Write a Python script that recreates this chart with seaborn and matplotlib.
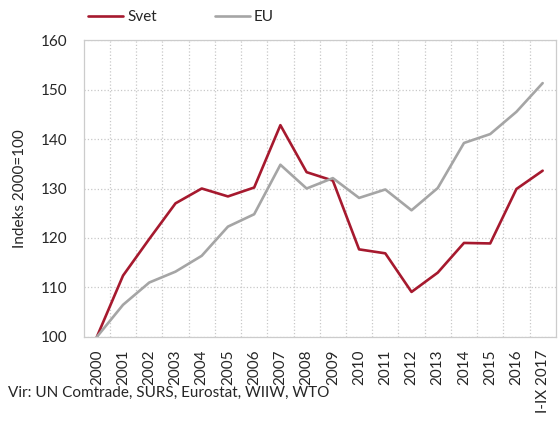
import numpy as np
import pandas as pd
import matplotlib
matplotlib.use("Agg")
import matplotlib.pyplot as plt
from matplotlib.ticker import FixedLocator
import seaborn as sns

years = ["2000", "2001", "2002", "2003", "2004", "2005", "2006", "2007", "2008",
         "2009", "2010", "2011", "2012", "2013", "2014", "2015", "2016", "I-IX 2017"]
svet = [100, 112.4, 119.8, 127.0, 130.0, 128.4, 130.2, 142.8, 133.3,
        131.6, 117.7, 116.9, 109.1, 113.0, 119.0, 118.9, 129.9, 133.6]
eu = [100, 106.5, 111.0, 113.2, 116.4, 122.3, 124.8, 134.8, 130.0,
      132.1, 128.1, 129.8, 125.6, 130.1, 139.2, 141.0, 145.5, 151.3]

RED = "#a6192e"
GRAY = "#a5a5a5"
FS = 11

sns.set_style("white")
plt.rcParams["font.family"] = ["Lato", "DejaVu Sans"]

df = pd.DataFrame({
    "pos": list(range(len(years))) * 2,
    "value": svet + eu,
    "series": ["Svet"] * len(years) + ["EU"] * len(years),
})

fig = plt.figure(figsize=(5.58, 4.26), dpi=100)
ax = fig.add_axes([0.150, 0.209, 0.846, 0.697])

sns.lineplot(data=df, x="pos", y="value", hue="series", sort=False,
             palette={"Svet": RED, "EU": GRAY}, linewidth=1.9, ax=ax, legend=False)

ax.set_xlim(-0.5, len(years) - 0.5)
ax.set_ylim(100, 160)
ax.set_yticks(np.arange(100, 161, 10))
ax.set_xticks(range(len(years)))
ax.set_xticklabels(years, rotation=90, fontsize=FS)
ax.xaxis.set_minor_locator(FixedLocator(np.arange(0.5, len(years) - 0.5, 1)))
ax.tick_params(axis="y", labelsize=FS, length=0, pad=12)
ax.tick_params(axis="x", which="both", length=0, pad=9)
ax.set_xlabel("")
ax.set_ylabel("Indeks 2000=100", fontsize=FS, labelpad=10)

ax.grid(True, axis="y", which="major", color="#c8c8c8", linestyle=":", linewidth=0.9)
ax.grid(True, axis="x", which="minor", color="#c8c8c8", linestyle=":", linewidth=0.9)
ax.set_axisbelow(True)
for s in ax.spines.values():
    s.set_color("#cccccc")
    s.set_linewidth(0.9)

handles = [plt.Line2D([], [], color=RED, lw=1.9), plt.Line2D([], [], color=GRAY, lw=1.9)]
fig.legend(handles, ["Svet", "EU"], loc="center left", bbox_to_anchor=(0.158, 0.960),
           ncol=2, frameon=False, fontsize=FS, handlelength=2.3, handletextpad=0.25,
           columnspacing=3.8, borderpad=0, borderaxespad=0)

fig.text(0.014, 1 - 393 / 426, "Vir: UN Comtrade, SURS, Eurostat, WIIW, WTO",
         fontsize=FS, va="center", ha="left")

fig.savefig("out.png", dpi=100)
